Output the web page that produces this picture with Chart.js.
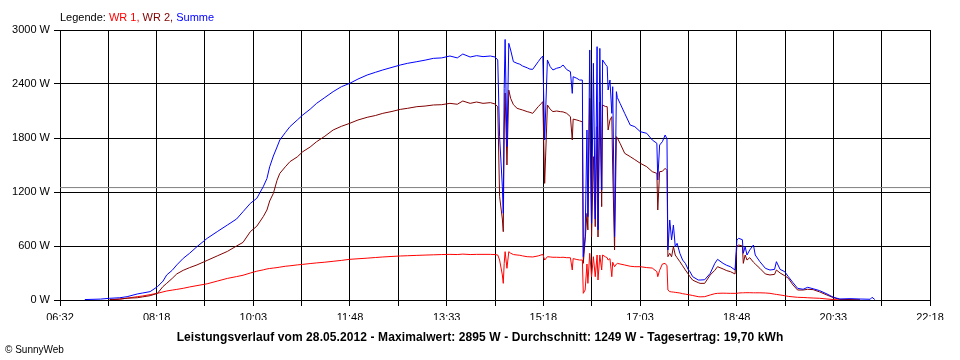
<!DOCTYPE html>
<html>
<head>
<meta charset="utf-8">
<script src="https://cdn.jsdelivr.net/npm/chart.js@4.4.1/dist/chart.umd.min.js"></script>
<style>
  body { margin: 0; background: #fff; }
  #wrap { position: relative; width: 960px; height: 360px; font-family: "Liberation Sans", Arial, sans-serif; color: #000; }
  #myChart { position: absolute; left: 0; top: 0; }
  #legend { position: absolute; left: 60px; top: 11px; font-size: 11px; white-space: nowrap; }
  #title { position: absolute; left: 0; top: 330px; width: 960px; text-align: center; font-size: 12px; font-weight: bold; letter-spacing: 0.1px; white-space: nowrap; }
  #copy { position: absolute; left: 5px; top: 344px; font-size: 10px; white-space: nowrap; }
</style>
</head>
<body>
<div id="wrap">
  <canvas id="myChart" width="960" height="360"></canvas>
  <div id="legend">Legende: <span style="color:#ff0000">WR 1,</span> <span style="color:#800000">WR 2,</span> <span style="color:#0000ff">Summe</span></div>
  <div id="title">Leistungsverlauf vom 28.05.2012 - Maximalwert: 2895 W - Durchschnitt: 1249 W - Tagesertrag: 19,70 kWh</div>
  <div id="copy">© SunnyWeb</div>
</div>
<script>
// Zeitachse (Messzeitpunkte) und Leistung in W
const times = [
  '06:59','07:16','07:26','07:37','07:45','07:56','08:02','08:10','08:18','08:24',
  '08:28','08:34','08:39','08:46','08:53','09:01','09:12','09:23','09:34','09:44',
  '09:51','09:59','10:06','10:13','10:17','10:20','10:24','10:28','10:31','10:37',
  '10:42','10:50','10:56','11:04','11:11','11:20','11:29','11:38','11:47','11:56',
  '12:06','12:15','12:23','12:33','12:42','12:50','13:00','13:09','13:18','13:27',
  '13:36','13:44','13:50','13:58','14:05','14:12','14:20','14:25','14:28','14:30',
  '14:33','14:34','14:35','14:36','14:38','14:40','14:42','14:45','14:49','14:52',
  '14:55','15:00','15:03','15:06','15:12','15:15','15:17','15:19','15:22','15:25',
  '15:28','15:32','15:36','15:39','15:43','15:47','15:49','15:50','15:54','15:57',
  '16:00','16:01','16:03','16:05','16:06','16:08','16:10','16:12','16:14','16:16',
  '16:17','16:19','16:21','16:22','16:25','16:27','16:28','16:30','16:32','16:33',
  '16:35','16:37','16:38','16:41','16:46','16:52','16:57','17:03','17:10','17:16',
  '17:21','17:22','17:24','17:27','17:30','17:32','17:33','17:35','17:37','17:39',
  '17:41','17:43','17:46','17:49','17:52','17:55','17:57','18:00','18:06','18:08',
  '18:13','18:19','18:24','18:27','18:33','18:37','18:41','18:46','18:48','18:50',
  '18:54','18:55','18:57','18:59','19:02','19:06','19:08','19:13','19:19','19:24',
  '19:29','19:31','19:35','19:40','19:44','19:49','19:54','20:00','20:05','20:11',
  '20:18','20:26','20:33','20:40','20:51','21:02','21:13','21:15','21:18'
];
const wr1 = [
  null, null, 0, 10, 20, 37, 45, 60, 74, 90,
  100, 110, 118, 130, 145, 160, 180, 210, 240, 260,
  275, 300, 320, 335, 345, 350, 355, 360, 365, 375,
  380, 390, 396, 405, 412, 420, 430, 440, 452, 458,
  465, 472, 478, 484, 489, 492, 496, 499, 502, 505,
  507, 505, 510, 505, 507, 507, 507, 505, 500, 444,
  278, 185, 407, 537, 352, 537, 520, 505, 500, 497,
  490, 481, 480, 478, 490, 500, 507, 444, 481, 478,
  475, 475, 473, 475, 470, 470, 333, 460, 450, 444,
  444, 74, 111, 400, 185, 519, 259, 481, 259, 500,
  222, 500, 333, 500, 480, 470, 444, 460, 259, 420,
  370, 400, 407, 400, 389, 375, 370, 370, 360, 355,
  315, 259, 330, 400, 407, 380, 111, 93, 90, 88,
  85, 82, 78, 70, 65, 60, 56, 50, 37, 35,
  37, 56, 70, 74, 76, 75, 74, 74, 74, 78,
  80, 80, 81, 81, 81, 80, 80, 80, 78, 74,
  65, 62, 56, 48, 40, 35, 30, 28, 25, 22,
  19, 11, 5, 0, 0, null, null, null, null
];
const wr2 = [
  null, null, 5, 10, 20, 25, 35, 48, 74, 150,
  185, 240, 290, 330, 360, 390, 440, 490, 540, 600,
  640, 760, 820, 926, 1000, 1100, 1185, 1330, 1407, 1480,
  1537, 1590, 1648, 1700, 1759, 1820, 1889, 1930, 1963, 2000,
  2030, 2050, 2074, 2095, 2118, 2130, 2148, 2155, 2167, 2170,
  2185, 2175, 2211, 2185, 2200, 2185, 2193, 2178, 2148, 1148,
  900, 759, 1900, 2300, 1500, 2333, 2241, 2170, 2130, 2120,
  2111, 2093, 2085, 2074, 2148, 2180, 2204, 1296, 2167, 2120,
  2093, 2100, 2093, 2090, 2074, 2037, 1778, 2010, 2000, 1990,
  1980, 407, 667, 963, 778, 2241, 704, 1593, 815, 1926,
  700, 2200, 1037, 2167, 2150, 2148, 1889, 2000, 2037, 1444,
  556, 1815, 1800, 1741, 1630, 1593, 1560, 1519, 1481, 1426,
  1407, 1000, 1426, 1430, 1463, 1440, 481, 519, 480, 593,
  500, 470, 426, 380, 333, 290, 259, 220, 193, 185,
  185, 278, 330, 370, 345, 326, 315, 289, 600, 611,
  600, 407, 500, 444, 470, 420, 400, 352, 289, 278,
  285, 333, 300, 270, 241, 167, 111, 111, 119, 115,
  90, 55, 26, 7, 5, 3, null, null, null
];
const summe = [
  5, 10, 19, 25, 37, 67, 78, 93, 148, 210,
  278, 330, 390, 463, 520, 593, 685, 760, 833, 900,
  981, 1074, 1130, 1259, 1350, 1480, 1600, 1700, 1778, 1860,
  1926, 2000, 2056, 2120, 2185, 2250, 2315, 2370, 2407, 2455,
  2500, 2530, 2556, 2585, 2611, 2630, 2648, 2665, 2685, 2690,
  2711, 2690, 2733, 2700, 2715, 2704, 2711, 2700, 2667, 1815,
  1259, 963, 2352, 2895, 1704, 2852, 2778, 2648, 2630, 2620,
  2600, 2580, 2565, 2563, 2648, 2690, 2711, 1778, 2667, 2593,
  2556, 2575, 2585, 2611, 2560, 2537, 2296, 2481, 2463, 2444,
  2444, 481, 704, 1889, 926, 2778, 852, 2630, 900, 2815,
  780, 2796, 1222, 2667, 2620, 2593, 2333, 2444, 2074, 2370,
  704, 2315, 2250, 2185, 2074, 1944, 1926, 1870, 1852, 1778,
  1741, 1333, 1722, 1759, 1833, 1790, 556, 889, 667, 833,
  593, 630, 519, 444, 407, 340, 315, 259, 222, 222,
  225, 296, 407, 452, 407, 385, 370, 333, 667, 685,
  670, 519, 593, 500, 556, 611, 500, 426, 352, 333,
  340, 426, 340, 315, 259, 193, 130, 119, 141, 125,
  104, 67, 30, 11, 15, 11, 8, 30, 5
];
const tickLabels = ['06:32','08:18','10:03','11:48','13:33','15:18','17:03','18:48','20:33','22:18'];
const yTicks = [0, 600, 1200, 1800, 2400, 3000];
const durchschnitt = 1249;

function toMin(s) {
    return parseInt(s.slice(0, 2), 10) * 60 + parseInt(s.slice(3), 10);
}

const tMin = toMin(tickLabels[0]);
const tMax = toMin(tickLabels[tickLabels.length - 1]);
const FONT = '"Liberation Sans", Arial, sans-serif';

function series(values) {
    return times.map((t, i) => ({ x: toMin(t), y: values[i] }));
}

function lineSet(label, values, color) {
    return {
        label: label,
        data: series(values),
        borderColor: color,
        borderWidth: 1,
        pointRadius: 0,
        tension: 0,
        spanGaps: false
    };
}

const ctx = document.getElementById('myChart').getContext('2d');

new Chart(ctx, {
    type: 'line',
    data: {
        datasets: [
            lineSet('Summe', summe, '#0000ff'),
            lineSet('WR 2', wr2, '#800000'),
            lineSet('WR 1', wr1, '#ff0000'),
            {
                label: 'Durchschnitt',
                data: [{ x: tMin, y: durchschnitt }, { x: tMax, y: durchschnitt }],
                borderColor: '#808080',
                borderWidth: 1,
                pointRadius: 0
            }
        ]
    },
    options: {
        responsive: false,
        animation: false,
        events: [],
        layout: { padding: { top: 30, right: 30, bottom: 40, left: 0 } },
        plugins: {
            legend: { display: false },
            tooltip: { enabled: false }
        },
        scales: {
            x: {
                type: 'linear',
                min: tMin,
                max: tMax,
                afterBuildTicks: function(scale) {
                    // 18 Intervalle, Beschriftung an jeder zweiten Linie
                    const n = (tickLabels.length - 1) * 2;
                    const ticks = [];
                    for (let i = 0; i <= n; i++) {
                        ticks.push({ value: tMin + (tMax - tMin) * i / n });
                    }
                    scale.ticks = ticks;
                },
                afterFit: function(scale) { scale.height = 20; },
                grid: { color: '#000', lineWidth: 1, tickLength: 6, drawTicks: true },
                border: { color: '#000' },
                ticks: {
                    color: '#000',
                    font: { family: FONT, size: 11 },
                    padding: 5,
                    maxRotation: 0,
                    autoSkip: false,
                    callback: function(value, index) {
                        return index % 2 === 0 ? tickLabels[index / 2] : '';
                    }
                }
            },
            y: {
                min: yTicks[0],
                max: yTicks[yTicks.length - 1],
                afterBuildTicks: function(scale) {
                    scale.ticks = yTicks.map(v => ({ value: v }));
                },
                afterFit: function(scale) { scale.width = 60; },
                grid: { color: '#000', lineWidth: 1, tickLength: 6, drawTicks: true },
                border: { color: '#000' },
                ticks: {
                    color: '#000',
                    font: { family: FONT, size: 11 },
                    padding: 4,
                    callback: function(value) { return value + ' W'; }
                }
            }
        }
    }
});
</script>
</body>
</html>
